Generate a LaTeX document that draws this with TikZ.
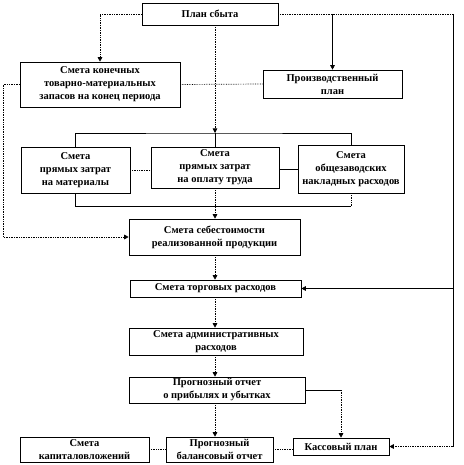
\documentclass[tikz,border=0pt]{standalone}
\usepackage{fontspec}
\setmainfont{Liberation Serif}
\usetikzlibrary{arrows.meta}
\tikzset{
  box/.style={draw=black,line width=.6pt,fill=white,align=center,
              font=\fontsize{10.5}{13}\selectfont\bfseries,inner sep=1pt},
  ar/.style ={-{Triangle[length=4.5pt,width=4.5pt]}},
  dln/.style={densely dotted,line width=.7pt},
  sln/.style={line width=.6pt},
}
\begin{document}
\begin{tikzpicture}[x=1pt,y=-1pt]
  \useasboundingbox (0,0) rectangle (463,465);
  % boxes
  \node[box,minimum width=136,minimum height=22] (plan)   at (210,14)   {План сбыта};
  \node[box,minimum width=160,minimum height=45] (zapas)  at (100,84.5) {Смета конечных\\товарно-материальных\\запасов на конец периода};
  \node[box,minimum width=139,minimum height=28] (proizv) at (332.5,84) {Производственный\\план};
  \node[box,minimum width=109,minimum height=46] (mat)    at (75.5,170) {Смета\\прямых затрат\\на материалы};
  \node[box,minimum width=128,minimum height=41] (trud)   at (215,167.5){Смета\\прямых затрат\\на оплату труда};
  \node[box,minimum width=106,minimum height=48] (obsch)  at (351,169)  {Смета\\общезаводских\\накладных расходов};
  \node[box,minimum width=171,minimum height=36] (sebest) at (214.5,237){Смета себестоимости\\реализованной продукции};
  \node[box,minimum width=171,minimum height=17] (torg)   at (215.5,288.5){Смета торговых расходов};
  \node[box,minimum width=174,minimum height=27] (admin)  at (216,341.5){Смета административных\\расходов};
  \node[box,minimum width=176,minimum height=26] (pribyl) at (217,390)  {Прогнозный отчет\\о прибылях и убытках};
  \node[box,minimum width=129,minimum height=25] (kapital)at (84.5,449.5){Смета\\капиталовложений};
  \node[box,minimum width=107,minimum height=25] (balans) at (219.5,449.5){Прогнозный\\балансовый отчет};
  \node[box,minimum width=96,minimum height=17]  (kassa)  at (341,446.5){Кассовый план};
  \coordinate (rtop) at (453,14);
  \coordinate (lcol) at (3,84.5);
  \coordinate (topbr) at (215,133);
  \coordinate (botbr) at (215,206);
  % from the sales plan
  \draw[dln,ar] (plan.west) -| (zapas.north);
  \draw[dln] (plan.east) -- (rtop);
  \draw[sln,ar] (plan.east -| proizv.north) -- (proizv.north);
  \draw[dln,ar] (plan.south -| trud.north) -- (topbr);
  \draw[dln] (zapas.east) -- (proizv.west);
  \draw[dln,ar] (zapas.west) -- (lcol) |- (sebest.west);
  % cost budgets
  \draw[sln] (mat.north) |- (topbr) -| (obsch.north);
  \draw[sln] (topbr) -- (trud.north);
  \draw[dln] (mat.east) -- (mat.east -| trud.west);
  \draw[sln] (obsch.west) -- (obsch.west -| trud.east);
  \draw[sln] (mat.south) |- (botbr);
  \draw[sln] (botbr) -- (botbr -| obsch.south);
  \draw[dln] (obsch.south) -- (botbr -| obsch.south);
  \draw[dln,ar] (trud.south) -- (sebest.north -| trud.south);
  % main column
  \draw[dln,ar] (sebest.south -| trud.south) -- (torg.north -| trud.south);
  \draw[dln,ar] (torg.south -| trud.south) -- (admin.north -| trud.south);
  \draw[dln,ar] (admin.south -| trud.south) -- (pribyl.north -| trud.south);
  \draw[dln,ar] (pribyl.south -| trud.south) -- (balans.north -| trud.south);
  \draw[sln] (pribyl.east) -- (pribyl.east -| kassa.north);
  \draw[dln,ar] (pribyl.east -| kassa.north) -- (kassa.north);
  % right side
  \draw[sln] (rtop) -- (kassa.east -| rtop);
  \draw[sln,ar] (torg.east -| rtop) -- (torg.east);
  \draw[dln,ar] (kassa.east -| rtop) -- (kassa.east);
  % bottom row
  \draw[dln] (kapital.east) -- (balans.west);
  \draw[dln] (balans.east) -- (balans.east -| kassa.west);
\end{tikzpicture}
\end{document}
